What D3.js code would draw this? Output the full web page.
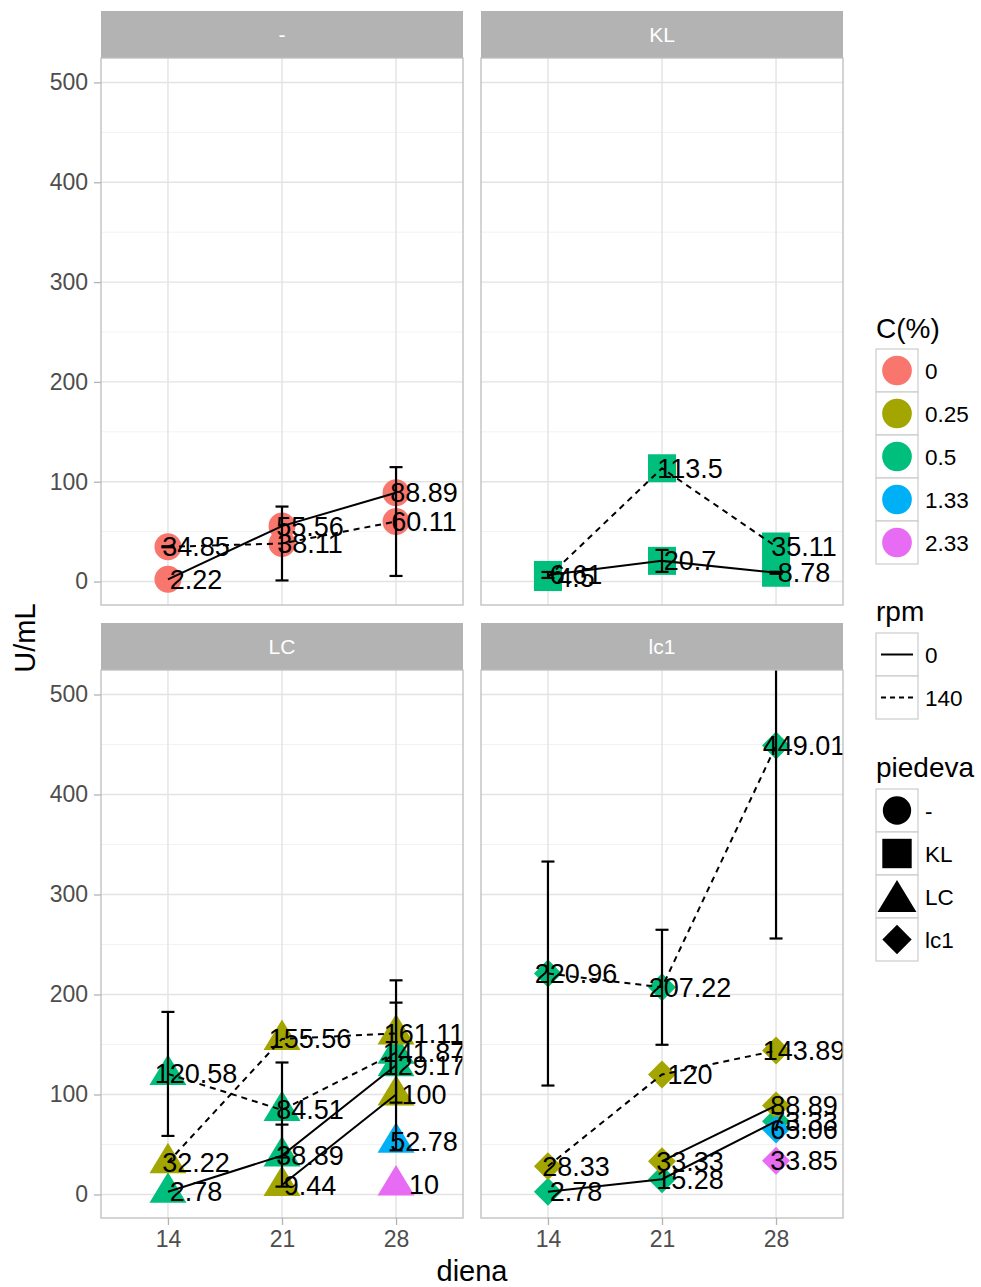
<!DOCTYPE html>
<html>
<head>
<meta charset="utf-8">
<script src="https://cdn.jsdelivr.net/npm/d3@7"></script>
<style>
  html, body { margin: 0; padding: 0; background: #fff; }
  svg { display: block; font-family: "Liberation Sans", Arial, sans-serif; }
</style>
</head>
<body>
<svg id="chart" width="981" height="1287"></svg>
<script>
// ---------------- data ----------------
const days = [14, 21, 28];
const yTicks = [0, 100, 200, 300, 400, 500];
const panels = ["-", "KL", "LC", "lc1"];
const concLevels = ["0", "0.25", "0.5", "1.33", "2.33"];
const concColors = ["#F8766D", "#A3A500", "#00BF7D", "#00B0F6", "#E76BF3"];
const rpmLevels = ["0", "140"];
const shapeLevels = ["-", "KL", "LC", "lc1"];

// each series: panel, C(%), rpm, values at days 14/21/28, sd (error bar half-width)
const seriesPanel = ["-", "-", "KL", "KL", "LC", "LC", "LC", "LC", "LC", "LC", "lc1", "lc1", "lc1", "lc1", "lc1", "lc1"];
const seriesConc  = ["0", "0", "0.5", "0.5", "0.5", "0.5", "0.25", "0.25", "1.33", "2.33", "0.5", "0.5", "0.25", "0.25", "1.33", "2.33"];
const seriesRpm   = ["0", "140", "0", "140", "140", "0", "140", "0", "0", "0", "140", "0", "140", "0", "0", "0"];
const seriesValues = [
  [2.22, 55.56, 88.89],
  [34.85, 38.11, 60.11],
  [6.61, 20.7, 8.78],
  [4.5, 113.5, 35.11],
  [120.58, 84.51, 141.87],
  [2.78, 38.89, 129.17],
  [32.22, 155.56, 161.11],
  [null, 9.44, 100],
  [null, null, 52.78],
  [null, null, 10],
  [220.96, 207.22, 449.01],
  [2.78, 15.28, 73.33],
  [28.33, 120, 143.89],
  [null, 33.33, 88.89],
  [null, null, 65.06],
  [null, null, 33.85]
];
const seriesSD = [
  [null, null, null],
  [0.5, 37, 54.5],
  [3, 11, 1],
  [null, null, null],
  [62, 47.5, 50],
  [null, 31, 85],
  [null, null, null],
  [null, null, null],
  [null, null, null],
  [null, null, null],
  [112, 57.5, 193],
  [null, null, null],
  [null, null, null],
  [null, null, null],
  [null, null, null],
  [null, null, null]
];

// ---------------- layout ----------------
const svg = d3.select("#chart");
const colX = [[101, 463], [481, 843]];
const rowY = [[58, 605], [670, 1218]];
const stripH = 47;
const labelNudge = 1.72;
const fsLabel = 27;
const lineW = 2;
const dash = "6,5";

const color = d3.scaleOrdinal().domain(concLevels).range(concColors);

function shapePath(shape, cx, cy, k) {
  k = k || 1;
  if (shape === "-") {
    const r = 13.5 * k;
    return `M${cx - r},${cy}a${r},${r} 0 1,0 ${2 * r},0a${r},${r} 0 1,0 ${-2 * r},0Z`;
  }
  if (shape === "KL") {
    const h = 14 * k;
    return `M${cx - h},${cy - h}H${cx + h}V${cy + h}H${cx - h}Z`;
  }
  if (shape === "LC") {
    const hb = 18.5 * k, up = 19.5 * k, dn = 11 * k;
    return `M${cx},${cy - up}L${cx + hb},${cy + dn}L${cx - hb},${cy + dn}Z`;
  }
  const d = 14 * k;
  return `M${cx},${cy - d}L${cx + d},${cy}L${cx},${cy + d}L${cx - d},${cy}Z`;
}

const defs = svg.append("defs");

panels.forEach((p, i) => {
  const col = i % 2, row = Math.floor(i / 2);
  const [x0, x1] = colX[col];
  const [y0, y1] = rowY[row];
  const x = d3.scaleLinear().domain([9.89, 32.11]).range([x0, x1]);
  const y = d3.scaleLinear().domain([-23.5, 524.5]).range([y1, y0]);

  // strip
  svg.append("rect").attr("x", x0).attr("y", y0 - stripH).attr("width", x1 - x0).attr("height", stripH)
    .attr("fill", "#B3B3B3");
  svg.append("text").attr("x", (x0 + x1) / 2).attr("y", y0 - stripH / 2 + 7.5)
    .attr("text-anchor", "middle").attr("fill", "#fff").attr("font-size", 21).text(p);

  // grid
  const g = svg.append("g");
  const minor = d3.range(50, 525, 100);
  g.selectAll(".ymin").data(minor).join("line")
    .attr("x1", x0).attr("x2", x1).attr("y1", d => y(d)).attr("y2", d => y(d))
    .attr("stroke", "#F2F2F2").attr("stroke-width", 1);
  g.selectAll(".ymaj").data(yTicks).join("line")
    .attr("x1", x0).attr("x2", x1).attr("y1", d => y(d)).attr("y2", d => y(d))
    .attr("stroke", "#E3E3E3").attr("stroke-width", 1.4);
  g.selectAll(".xmaj").data(days).join("line")
    .attr("y1", y0).attr("y2", y1).attr("x1", d => x(d)).attr("x2", d => x(d))
    .attr("stroke", "#E3E3E3").attr("stroke-width", 1.4);

  const clipId = "clip" + i;
  defs.append("clipPath").attr("id", clipId).append("rect")
    .attr("x", x0).attr("y", y0).attr("width", x1 - x0).attr("height", y1 - y0);
  const plot = svg.append("g").attr("clip-path", `url(#${clipId})`);

  const idx = d3.range(seriesPanel.length).filter(j => seriesPanel[j] === p);

  // points
  idx.forEach(j => {
    seriesValues[j].forEach((v, k) => {
      if (v === null) return;
      plot.append("path").attr("d", shapePath(p, x(days[k]), y(v)))
        .attr("fill", color(seriesConc[j]));
    });
  });
  // lines
  const line = d3.line().defined(d => d[1] !== null).x(d => x(d[0])).y(d => y(d[1]));
  idx.forEach(j => {
    const pts = days.map((d, k) => [d, seriesValues[j][k]]).filter(d => d[1] !== null);
    if (pts.length < 2) return;
    plot.append("path").attr("d", line(pts)).attr("fill", "none").attr("stroke", "#000")
      .attr("stroke-width", lineW)
      .attr("stroke-dasharray", seriesRpm[j] === "140" ? dash : null);
  });
  // error bars
  idx.forEach(j => {
    seriesSD[j].forEach((s, k) => {
      if (s === null) return;
      const v = seriesValues[j][k];
      const cx = x(days[k]);
      const yt = y(v + s), yb = y(v - s);
      plot.append("line").attr("x1", cx).attr("x2", cx).attr("y1", yt).attr("y2", yb)
        .attr("stroke", "#000").attr("stroke-width", 2.2);
      [yt, yb].forEach(yy => plot.append("line").attr("x1", cx - 6.5).attr("x2", cx + 6.5)
        .attr("y1", yy).attr("y2", yy).attr("stroke", "#000").attr("stroke-width", 2.2));
    });
  });
  // text labels
  idx.forEach(j => {
    seriesValues[j].forEach((v, k) => {
      if (v === null) return;
      plot.append("text").attr("x", x(days[k] + labelNudge)).attr("y", y(v) + 9.5)
        .attr("text-anchor", "middle").attr("font-size", fsLabel).attr("fill", "#000")
        .text(String(v));
    });
  });

  // border
  svg.append("rect").attr("x", x0).attr("y", y0).attr("width", x1 - x0).attr("height", y1 - y0)
    .attr("fill", "none").attr("stroke", "#BDBDBD").attr("stroke-width", 1.3);

  // axes
  if (col === 0) {
    const ax = svg.append("g").attr("transform", `translate(${x0},0)`)
      .call(d3.axisLeft(y).tickValues(yTicks).tickSize(7).tickPadding(6).tickFormat(d3.format("d")));
    ax.select(".domain").remove();
    ax.selectAll(".tick line").attr("stroke", "#B3B3B3").attr("stroke-width", 1.3);
    ax.selectAll(".tick text").attr("font-size", 23).attr("fill", "#4D4D4D")
      .attr("font-family", "Liberation Sans, Arial, sans-serif");
  }
  if (row === 1) {
    const ax = svg.append("g").attr("transform", `translate(0,${y1})`)
      .call(d3.axisBottom(x).tickValues(days).tickSize(7).tickPadding(6).tickFormat(d3.format("d")));
    ax.select(".domain").remove();
    ax.selectAll(".tick line").attr("stroke", "#B3B3B3").attr("stroke-width", 1.3);
    ax.selectAll(".tick text").attr("font-size", 23).attr("fill", "#4D4D4D")
      .attr("font-family", "Liberation Sans, Arial, sans-serif");
  }
});

// axis titles
svg.append("text").attr("x", 472).attr("y", 1281).attr("text-anchor", "middle")
  .attr("font-size", 29).attr("fill", "#000").text("diena");
svg.append("text").attr("transform", "translate(35,638) rotate(-90)").attr("text-anchor", "middle")
  .attr("font-size", 29).attr("fill", "#000").text("U/mL");

// ---------------- legends ----------------
const lx = 876, kw = 42, kh = 43;
function legendTitle(t, yb) {
  svg.append("text").attr("x", lx).attr("y", yb).attr("font-size", 28).attr("fill", "#000").text(t);
}
function keyBox(yTop) {
  svg.append("rect").attr("x", lx).attr("y", yTop).attr("width", kw).attr("height", kh)
    .attr("fill", "#fff").attr("stroke", "#CCCCCC").attr("stroke-width", 1.2);
}
function keyLabel(t, yTop) {
  svg.append("text").attr("x", lx + kw + 7).attr("y", yTop + kh / 2 + 8).attr("font-size", 22.5)
    .attr("fill", "#000").text(t);
}

legendTitle("C(%)", 338);
concLevels.forEach((c, i) => {
  const yt = 349 + i * kh;
  keyBox(yt);
  svg.append("path").attr("d", shapePath("-", lx + kw / 2, yt + kh / 2, 1.1)).attr("fill", color(c));
  keyLabel(c, yt);
});

legendTitle("rpm", 621);
rpmLevels.forEach((r, i) => {
  const yt = 633 + i * kh;
  keyBox(yt);
  svg.append("line").attr("x1", lx + 5).attr("x2", lx + kw - 5).attr("y1", yt + kh / 2).attr("y2", yt + kh / 2)
    .attr("stroke", "#000").attr("stroke-width", lineW)
    .attr("stroke-dasharray", r === "140" ? "5,4" : null);
  keyLabel(r, yt);
});

legendTitle("piedeva", 777);
shapeLevels.forEach((s, i) => {
  const yt = 789 + i * kh;
  keyBox(yt);
  svg.append("path").attr("d", shapePath(s, lx + kw / 2, yt + kh / 2 + (s === "LC" ? 4 : 0), 1.05)).attr("fill", "#000");
  keyLabel(s, yt);
});
</script>
</body>
</html>
